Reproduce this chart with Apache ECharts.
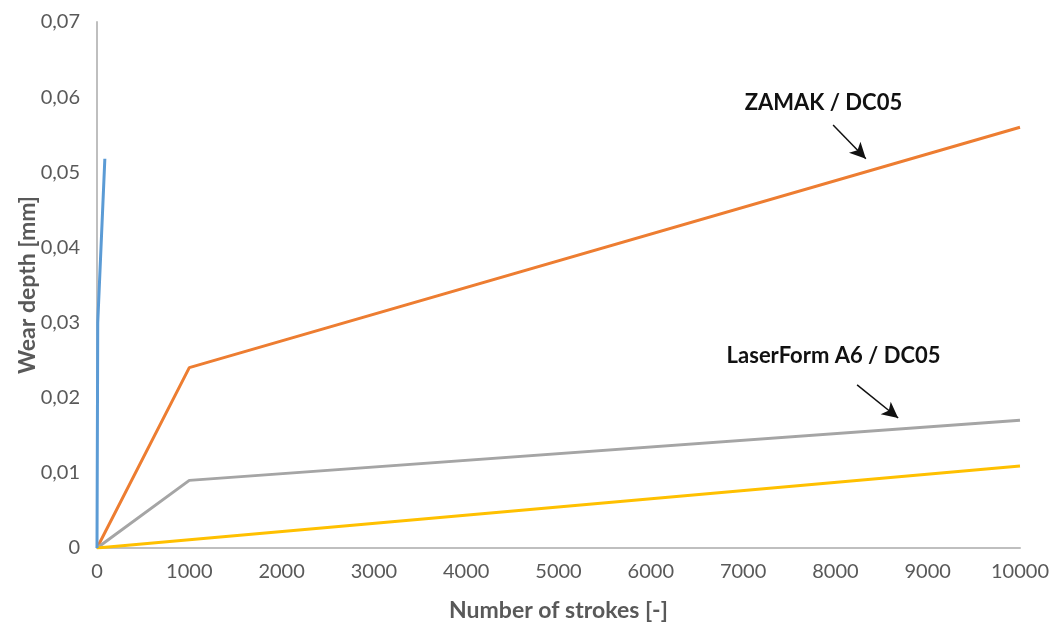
<!DOCTYPE html>
<html>
<head>
<meta charset="utf-8">
<script src="https://cdn.jsdelivr.net/npm/echarts@6/dist/echarts.min.js"></script>
<style>
  html, body { margin: 0; padding: 0; background: #fff; }
  #main { width: 1050px; height: 622px; }
</style>
</head>
<body>
<div id="main"></div>
<script>
// data: [strokes, wear depth mm]
const blueData = [[0, 0], [8, 0.03], [85, 0.0518]];
const zamakData = [[0, 0], [1000, 0.024], [10000, 0.056]];
const laserData = [[0, 0], [1000, 0.009], [10000, 0.017]];
const yellowData = [[0, 0], [1000, 0.0011], [10000, 0.0109]];

const xTicks = { min: 0, max: 10000, step: 1000 };
const yTicks = { min: 0, max: 0.07, step: 0.01 };

// annotation positions in data units
const zamakLabel = { text: "ZAMAK / DC05", at: [7870, 0.0592], from: [7975, 0.0563], to: [8330, 0.0518] };
const laserLabel = { text: "LaserForm A6 / DC05", at: [7980, 0.0255], from: [8235, 0.0217], to: [8680, 0.0173] };

const FONT = "Lato";
const labelGray = "#595959";
const axisGray = "#bfbfbf";

function annotation(a) {
  return {
    markPoint: {
      symbol: "circle",
      symbolSize: 0,
      silent: true,
      data: [{ coord: a.at, value: a.text }],
      label: {
        show: true,
        position: "inside",
        formatter: a.text,
        color: "#111",
        fontFamily: FONT,
        fontWeight: "bold",
        fontSize: 22
      }
    },
    markLine: {
      silent: true,
      symbol: ["none", "arrow"],
      symbolSize: [12, 16],
      label: { show: false },
      lineStyle: { color: "#111", width: 1.5, type: "solid" },
      data: [[{ coord: a.from }, { coord: a.to }]]
    }
  };
}

const chart = echarts.init(document.getElementById("main"));

const option = {
  animation: false,
  backgroundColor: "#fff",
  grid: { left: 97, right: 30, top: 22, bottom: 74, containLabel: false, outerBoundsMode: "none" },
  xAxis: {
    type: "value",
    min: xTicks.min,
    max: xTicks.max,
    interval: xTicks.step,
    name: "Number of strokes [-]",
    nameLocation: "middle",
    nameGap: 51,
    nameMoveOverlap: false,
    nameTextStyle: { color: labelGray, fontFamily: FONT, fontWeight: "bold", fontSize: 23 },
    axisLine: { lineStyle: { color: axisGray, width: 2 } },
    axisTick: { show: false },
    splitLine: { show: false },
    axisLabel: {
      color: labelGray,
      fontFamily: FONT,
      fontSize: 20,
      margin: 14,
      formatter: function (v) { return String(v); }
    }
  },
  yAxis: {
    type: "value",
    min: yTicks.min,
    max: yTicks.max,
    interval: yTicks.step,
    name: "Wear depth [mm]",
    nameLocation: "middle",
    nameGap: 58,
    nameMoveOverlap: false,
    nameTextStyle: { color: labelGray, fontFamily: FONT, fontWeight: "bold", fontSize: 23 },
    axisLine: { show: true, lineStyle: { color: axisGray, width: 2 } },
    axisTick: { show: false },
    splitLine: { show: false },
    axisLabel: {
      color: labelGray,
      fontFamily: FONT,
      fontSize: 20,
      margin: 17,
      formatter: function (v) {
        return v === 0 ? "0" : v.toFixed(2).replace(".", ",");
      }
    }
  },
  series: [
    {
      type: "line",
      data: blueData,
      showSymbol: false,
      lineStyle: { color: "#5b9bd5", width: 3 },
      itemStyle: { color: "#5b9bd5" },
      z: 5
    },
    Object.assign({
      type: "line",
      data: zamakData,
      showSymbol: false,
      lineStyle: { color: "#ed7d31", width: 3 },
      itemStyle: { color: "#ed7d31" }
    }, annotation(zamakLabel)),
    Object.assign({
      type: "line",
      data: laserData,
      showSymbol: false,
      lineStyle: { color: "#a5a5a5", width: 3 },
      itemStyle: { color: "#a5a5a5" }
    }, annotation(laserLabel)),
    {
      type: "line",
      data: yellowData,
      showSymbol: false,
      lineStyle: { color: "#ffc000", width: 3 },
      itemStyle: { color: "#ffc000" }
    }
  ]
};

chart.setOption(option);
</script>
</body>
</html>
